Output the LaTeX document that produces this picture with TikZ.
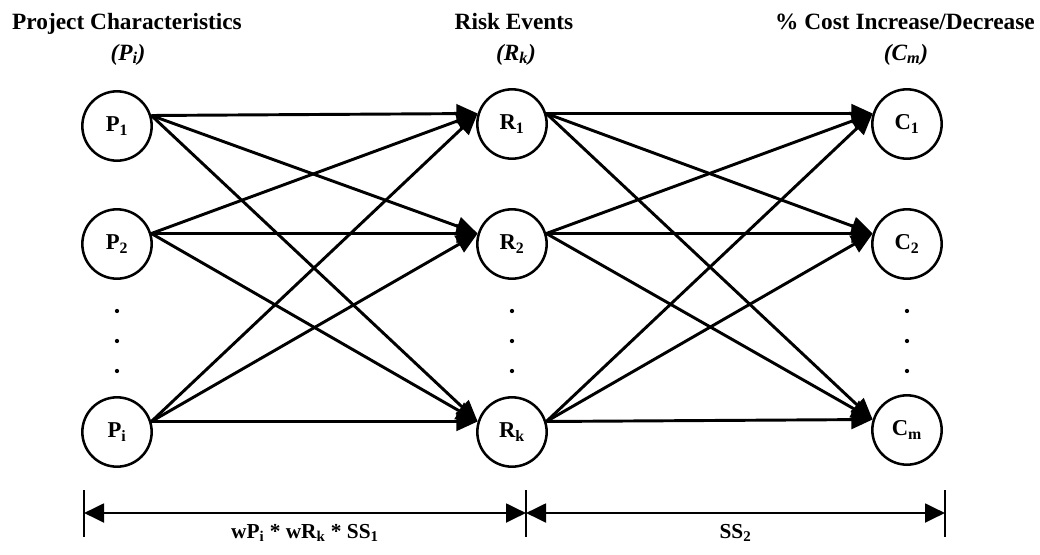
\documentclass[tikz,border=0pt]{standalone}
\usepackage{fontspec}
\setmainfont{Liberation Serif}
\usetikzlibrary{arrows.meta}
\tikzset{
  unit/.style={circle,draw,line width=1.9pt,minimum size=52pt,inner sep=0pt,font=\fontsize{17}{19}\selectfont\bfseries},
  link/.style={line width=2.2pt,-{Triangle[length=16pt,width=14pt]}},
  span/.style={line width=2.2pt,{Triangle[length=15pt,width=14pt]}-{Triangle[length=15pt,width=14pt]}},
  head/.style={anchor=base,font=\fontsize{17.5}{20}\selectfont\bfseries},
  subhead/.style={anchor=base,font=\fontsize{17.5}{20}\selectfont\bfseries\itshape},
  spanlabel/.style={anchor=north,font=\fontsize{16}{18}\selectfont\bfseries}
}
\begin{document}
\begin{tikzpicture}[x=0.75pt,y=-0.75pt]
\useasboundingbox (0,0) rectangle (1040,554);
\node[head] (tP) at (127,29) {Project Characteristics};
\node[subhead] (sP) at (128,60) {(P\textsubscript{i})};
\node[head] (tR) at (514,29) {Risk Events};
\node[subhead] (sR) at (516,60) {(R\textsubscript{k})};
\node[head] (tC) at (905,29) {\% Cost Increase/Decrease};
\node[subhead] (sC) at (906,60) {(C\textsubscript{m})};
\node[unit] (P1) at (117,126) {P\textsubscript{1}};
\node[unit] (P2) at (117,244) {P\textsubscript{2}};
\node[unit] (Pi) at (117,432) {P\textsubscript{i}};
\node[unit] (R1) at (512,124) {R\textsubscript{1}};
\node[unit] (R2) at (512,244) {R\textsubscript{2}};
\node[unit] (Rk) at (512,432) {R\textsubscript{k}};
\node[unit] (C1) at (907,124) {C\textsubscript{1}};
\node[unit] (C2) at (907,244) {C\textsubscript{2}};
\node[unit] (Cm) at (907,430) {C\textsubscript{m}};
\foreach \x in {117,512,907}
  \foreach \y in {311,341,371}
    \fill (\x,\y) circle (1.6pt);
\foreach \a in {P1,P2,Pi}
  \foreach \b in {R1,R2,Rk}
    \draw[link] (\a.17) -- (\b.163);
\foreach \a in {R1,R2,Rk}
  \foreach \b in {C1,C2,Cm}
    \draw[link] (\a.17) -- (\b.163);
\coordinate (t1) at (84,513);
\coordinate (t2) at (526,513);
\coordinate (t3) at (945,513);
\foreach \t in {t1,t2,t3}
  \draw[line width=1.5pt] (\t) ++(0,-23) -- ++(0,47);
\draw[span] (t1) -- (t2) node[spanlabel,midway,below=4pt] (l1) {wP\textsubscript{i} * wR\textsubscript{k} * SS\textsubscript{1}};
\draw[span] (t2) -- (t3) node[spanlabel,midway,below=4pt] (l2) {SS\textsubscript{2}};
\end{tikzpicture}
\end{document}
